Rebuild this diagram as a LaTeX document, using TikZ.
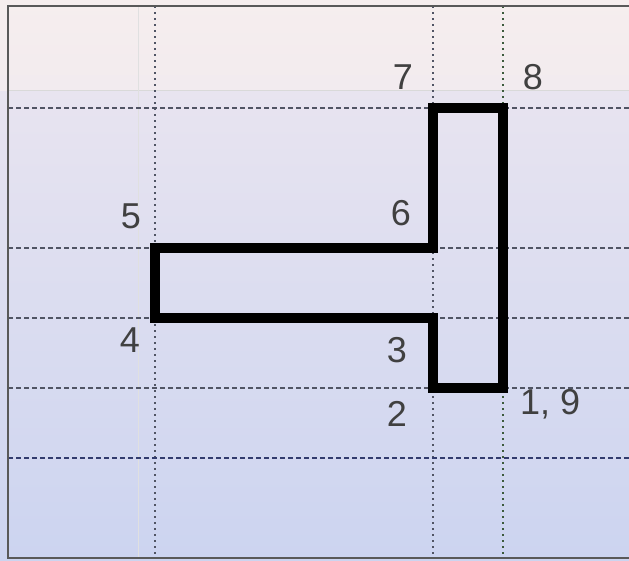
\documentclass[tikz,border=0pt]{standalone}
\usepackage{fontspec}
\setmainfont{Liberation Sans}
\definecolor{bgtop}{RGB}{246,238,238}
\definecolor{bgmid}{RGB}{232,228,240}
\definecolor{bgbot}{RGB}{204,212,240}
\definecolor{gridc}{RGB}{80,84,100}
\definecolor{gridg}{RGB}{60,90,60}
\definecolor{gridb}{RGB}{50,60,110}
\begin{document}
\begin{tikzpicture}[x=1pt,y=-1pt,
  lbl/.style={text=black!75,font=\fontsize{36}{40}\selectfont,inner sep=0pt},
  gridv/.style={draw=gridc,line width=1.2pt,dash pattern=on 2pt off 4pt},
  gridh/.style={draw=gridc,line width=1.2pt,dash pattern=on 5pt off 3pt},
  outline/.style={line width=10pt,line join=miter}]
\useasboundingbox (0,0) rectangle (629,560);
\shade[top color=bgmid,bottom color=bgbot] (0,90) rectangle (629,560);
\shade[top color=bgtop,bottom color=bgtop!70!bgmid] (0,0) rectangle (629,90);
\draw[black!15,line width=1pt] (8,90) -- (629,90);
\draw[black!12,line width=1pt] (138,6) -- (138,558);
% grid
\foreach \x in {155,433} \draw[gridv] (\x,6) -- (\x,558);
\draw[gridv,draw=gridg] (503,6) -- (503,558);
\foreach \y in {108,248,318,388} \draw[gridh] (8,\y) -- (629,\y);
\draw[gridh,draw=gridb] (8,458) -- (629,458);
% frame
\draw[black!65,line width=1.5pt] (629,6) -- (8,6) -- (8,558) -- (629,558);
% shape
\coordinate (p1) at (503,388);
\coordinate (p2) at (433,388);
\coordinate (p3) at (433,318);
\coordinate (p4) at (155,318);
\coordinate (p5) at (155,248);
\coordinate (p6) at (433,248);
\coordinate (p7) at (433,108);
\coordinate (p8) at (503,108);
\draw[outline] (p1) -- (p2) -- (p3) -- (p4) -- (p5) -- (p6) -- (p7) -- (p8) -- cycle;
% labels
\node[lbl] (l7) at (403,77) {7};
\node[lbl] (l8) at (533,77) {8};
\node[lbl] (l5) at (131,216) {5};
\node[lbl] (l6) at (401,213) {6};
\node[lbl] (l4) at (130,340) {4};
\node[lbl] (l3) at (397,350) {3};
\node[lbl] (l2) at (397,414) {2};
\node[lbl,anchor=west] (l19) at (520,404) {1, 9};
\end{tikzpicture}
\end{document}
